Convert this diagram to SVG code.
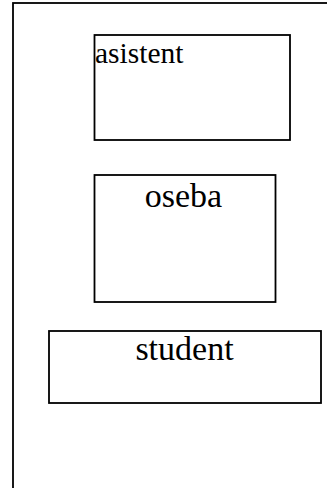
<svg xmlns="http://www.w3.org/2000/svg" width="327" height="488" viewBox="0 0 327 488">
  <style>
    .box { fill: #fff; stroke: #000; stroke-width: 1.8; }
    .lbl { font-family: "Liberation Serif", "Times New Roman", serif; fill: #000; }
  </style>
  <rect x="0" y="0" width="327" height="488" fill="#fff"/>
  <!-- outer frame, running off the right and bottom edges -->
  <g id="frame">
    <rect class="box" x="13" y="3" width="340" height="520"/>
  </g>
  <g id="connectors"></g>
  <g id="asistent">
    <rect class="box" x="94.5" y="35" width="195.5" height="105"/>
    <text class="lbl" x="95" y="63" font-size="29.5">asistent</text>
  </g>
  <g id="oseba">
    <rect class="box" x="94.5" y="175" width="181" height="127"/>
    <text class="lbl" x="183.5" y="207" font-size="34" text-anchor="middle">oseba</text>
  </g>
  <g id="student">
    <rect class="box" x="49" y="331" width="272" height="72"/>
    <text class="lbl" x="184.5" y="360" font-size="34" text-anchor="middle">student</text>
  </g>
</svg>
